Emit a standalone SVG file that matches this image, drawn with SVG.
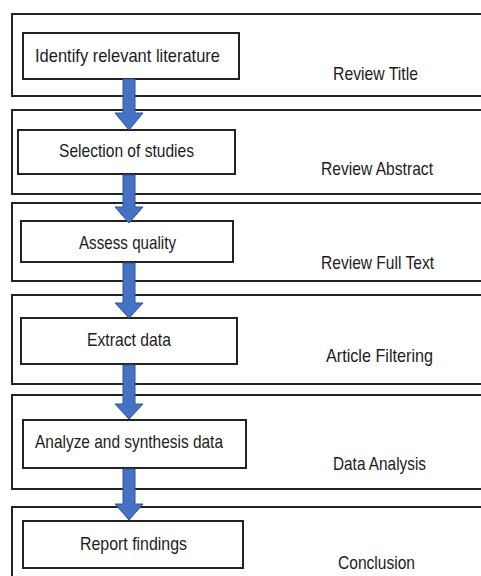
<svg xmlns="http://www.w3.org/2000/svg" width="481" height="576" viewBox="0 0 481 576">
<defs>
<style>
.stage{fill:#ffffff;stroke:#222222;stroke-width:2}
.step{fill:#ffffff;stroke:#222222;stroke-width:2}
text{font-family:"Liberation Sans",Arial,sans-serif;font-size:19px;fill:#1c1c1c}
.arrow{fill:#4472C4;stroke:#2F5597;stroke-width:1}
</style>
</defs>
<rect width="481" height="576" fill="#ffffff"/>
<g id="stage-review-title"><rect class="stage" x="12" y="14" width="480" height="82"/><text x="333" y="80" textLength="85" lengthAdjust="spacingAndGlyphs">Review Title</text></g>
<g id="stage-review-abstract"><rect class="stage" x="12" y="110" width="480" height="84"/><text x="321" y="175" textLength="112" lengthAdjust="spacingAndGlyphs">Review Abstract</text></g>
<g id="stage-review-full-text"><rect class="stage" x="12" y="203" width="480" height="78"/><text x="321" y="269" textLength="113" lengthAdjust="spacingAndGlyphs">Review Full Text</text></g>
<g id="stage-article-filtering"><rect class="stage" x="12" y="295" width="480" height="89"/><text x="326" y="362" textLength="107" lengthAdjust="spacingAndGlyphs">Article Filtering</text></g>
<g id="stage-data-analysis"><rect class="stage" x="12" y="395" width="480" height="94"/><text x="333" y="470" textLength="93" lengthAdjust="spacingAndGlyphs">Data Analysis</text></g>
<g id="stage-conclusion"><rect class="stage" x="12" y="507" width="480" height="90"/><text x="338" y="569" textLength="77" lengthAdjust="spacingAndGlyphs">Conclusion</text></g>
<g id="step-identify"><rect class="step" x="23" y="33" width="216" height="46"/><text x="35" y="61.5" textLength="185" lengthAdjust="spacingAndGlyphs">Identify relevant literature</text></g>
<g id="step-selection"><rect class="step" x="18" y="130" width="217" height="44"/><text x="59" y="157" textLength="135" lengthAdjust="spacingAndGlyphs">Selection of studies</text></g>
<g id="step-assess"><rect class="step" x="21" y="221" width="212" height="41"/><text x="79" y="249" textLength="97" lengthAdjust="spacingAndGlyphs">Assess quality</text></g>
<g id="step-extract"><rect class="step" x="21" y="318" width="216" height="46"/><text x="87" y="346" textLength="84" lengthAdjust="spacingAndGlyphs">Extract data</text></g>
<g id="step-analyze"><rect class="step" x="23" y="420" width="223" height="48"/><text x="35" y="448" textLength="188" lengthAdjust="spacingAndGlyphs">Analyze and synthesis data</text></g>
<g id="step-report"><rect class="step" x="23" y="521" width="220" height="47"/><text x="80" y="550" textLength="107" lengthAdjust="spacingAndGlyphs">Report findings</text></g>
<g id="connectors">
<polygon class="arrow" points="123,79 135,79 135,113 143,113 129,130 115,113 123,113"/>
<polygon class="arrow" points="123,175 135,175 135,207 143,207 129,223 115,207 123,207"/>
<polygon class="arrow" points="123,263 135,263 135,303 143,303 129,318 115,303 123,303"/>
<polygon class="arrow" points="123,365 135,365 135,404 143,404 129,419 115,404 123,404"/>
<polygon class="arrow" points="123,469 135,469 135,504 143,504 129,520 115,504 123,504"/>
</g>
</svg>
